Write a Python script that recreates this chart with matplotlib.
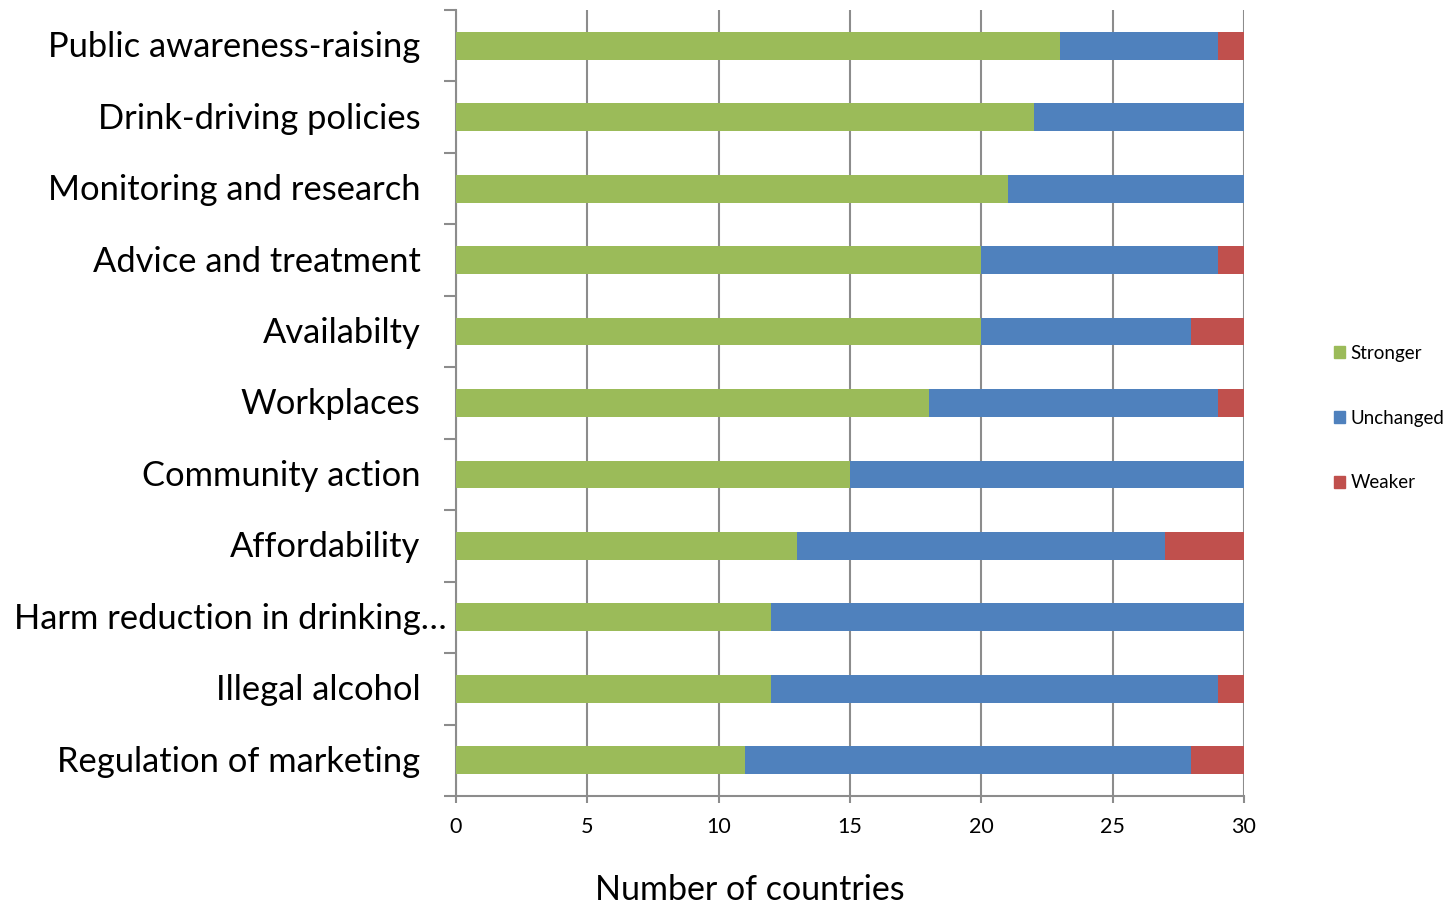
import numpy as np
import matplotlib
matplotlib.use("Agg")
import matplotlib.pyplot as plt
from matplotlib.patches import Patch
from matplotlib.ticker import FixedLocator

plt.rcParams["font.family"] = ["Lato", "DejaVu Sans"]

# ── Data (top to bottom) ──────────────────────────────────────────────────────
categories = [
    "Public awareness-raising",
    "Drink-driving policies",
    "Monitoring and research",
    "Advice and treatment",
    "Availabilty",
    "Workplaces",
    "Community action",
    "Affordability",
    "Harm reduction in drinking…",
    "Illegal alcohol",
    "Regulation of marketing",
]
stronger  = [23, 22, 21, 20, 20, 18, 15, 13, 12, 12, 11]
unchanged = [6, 8, 9, 9, 8, 11, 15, 14, 18, 17, 17]
weaker    = [1, 0, 0, 1, 2, 1, 0, 3, 0, 1, 2]

series_names = ["Stronger", "Unchanged", "Weaker"]
colors = ["#9BBB59", "#4F81BD", "#C0504D"]
GRID = "#8C8C8C"

# ── Figure ────────────────────────────────────────────────────────────────────
fig = plt.figure(figsize=(14.5, 9.05), dpi=100)
ax = fig.add_axes([456 / 1450, 1 - 796 / 905, (1244 - 456) / 1450, (796 - 10) / 905])

y = np.arange(len(categories))
s = np.array(stronger)
u = np.array(unchanged)
w = np.array(weaker)
h = 0.39
ax.barh(y, s, height=h, color=colors[0], zorder=3)
ax.barh(y, u, left=s, height=h, color=colors[1], zorder=3)
ax.barh(y, w, left=s + u, height=h, color=colors[2], zorder=3)

ax.set_xlim(0, 30)
ax.set_ylim(len(categories) - 0.5, -0.5)
ax.set_xticks(range(0, 31, 5))
ax.tick_params(axis="x", direction="out", length=5, width=1.5, color=GRID,
               labelsize=15.5, pad=10)
ax.xaxis.grid(True, color=GRID, lw=1.5, zorder=0)

ax.set_yticks([])
ax.yaxis.set_minor_locator(FixedLocator(np.arange(-0.5, len(categories), 1.0)))
ax.tick_params(axis="y", which="minor", direction="out", length=9, width=1.5,
               color=GRID)

for side in ("top", "right"):
    ax.spines[side].set_visible(False)
for side in ("left", "bottom"):
    ax.spines[side].set_color(GRID)
    ax.spines[side].set_linewidth(1.5)

# category labels (Excel pushes the truncated one closer to the axis)
for i, name in enumerate(categories):
    xoff = -0.012 if name.endswith("…") else -0.045
    ax.text(xoff, i + 0.02, name, transform=ax.get_yaxis_transform(),
            ha="right", va="center", fontsize=24.8)

fig.text(750 / 1450, 1 - 890 / 905, "Number of countries",
         ha="center", va="center", fontsize=24.5)

handles = [Patch(color=c) for c in colors]
fig.legend(handles, series_names, loc="center left",
           bbox_to_anchor=(1326 / 1450, 1 - 418 / 905), frameon=False,
           fontsize=13.5, handlelength=0.6, handleheight=0.6,
           handletextpad=0.3, labelspacing=2.55, borderaxespad=0)

fig.savefig("out.png", dpi=100)
